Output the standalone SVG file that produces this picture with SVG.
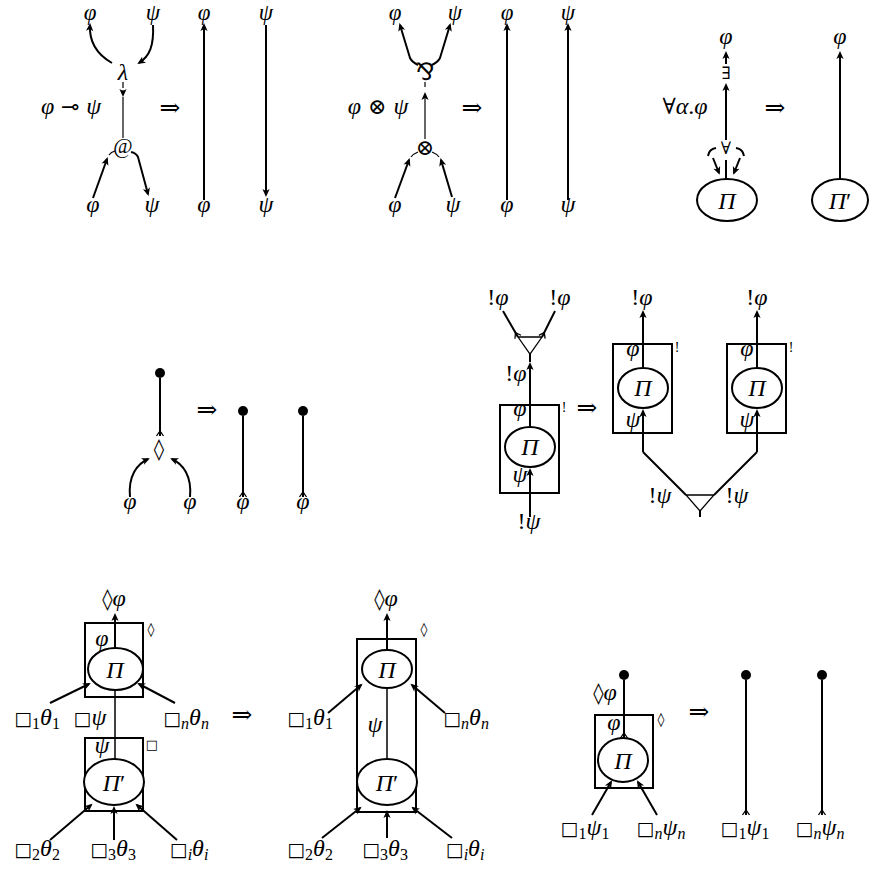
<svg xmlns="http://www.w3.org/2000/svg" width="869" height="869" viewBox="0 0 869 869">
<defs>
<style>
text { font-family: "Liberation Serif", "DejaVu Serif", serif; font-size: 24px; text-anchor: middle; fill: #000; }
.i { font-style: italic; }
.top { font-size: 23px; }
.s { font-size: 16px; }
.y { font-family: "DejaVu Serif", "Liberation Serif", serif; font-size: 22px; }
.q { font-family: "DejaVu Serif", "Liberation Serif", serif; font-size: 19px; }
.d { font-family: "DejaVu Sans", "Liberation Serif", sans-serif; font-size: 21px; }
.k { font-size: 14px; }
.w { fill: none; stroke: #000; stroke-width: 2; }
.t { fill: none; stroke: #000; stroke-width: 1.2; }
.a { marker-end: url(#ah); }
.b { marker-start: url(#tl); }
.n { fill: #fff; stroke: #000; stroke-width: 2; }
.bx { fill: none; stroke: #000; stroke-width: 2; }
.tri { fill: #fff; stroke: #000; stroke-width: 1.3; }
</style>
<marker id="ah" viewBox="-8 -5 12 10" refX="0" refY="0" markerWidth="12" markerHeight="10" markerUnits="userSpaceOnUse" orient="auto">
<path d="M2,0 L-6,-3.6 L-4,0 L-6,3.6 Z" fill="#000"/>
</marker>
<marker id="tl" viewBox="-2 -5 10 10" refX="0" refY="0" markerWidth="10" markerHeight="10" markerUnits="userSpaceOnUse" orient="auto">
<path d="M0,-3.5 L5,0 L0,3.5" fill="none" stroke="#000" stroke-width="1.3"/>
</marker>
</defs>
<rect width="869" height="869" fill="#fff"/>
<g opacity="0.999">

<!-- connectors -->
<g id="connectors">
  <!-- lambda / application redex -->
  <path class="w a" d="M112,63 C98,55 89,42 90,25"/>
  <path class="w a" d="M153,25 C154,45 150,56 139,63"/>
  <path class="t" d="M123,82 L123,88"/>
  <path class="t a" d="M123,90 L123,95"/>
  <path class="t" d="M123,97 L123,138"/>
  <path class="w a" d="M93,198 L107,159"/>
  <path class="t" d="M109,155 Q111,152 115,151"/>
  <path class="w a" d="M131,152 Q136,153 138,157 L148,194"/>
  <path class="w a" d="M204,200 L204,25"/>
  <path class="w a" d="M266,25 L266,195"/>
  <!-- tensor / par redex -->
  <path class="w a" d="M418,65 Q412,62 410,58 L400,25"/>
  <path class="w a" d="M432,65 Q438,62 440,58 L450,25"/>
  <path class="t" d="M425,82 L425,87"/>
  <path class="t a" d="M425,139 L425,94"/>
  <path class="w a" d="M395,198 L409,160"/>
  <path class="t" d="M411,157 Q413,154 418,152"/>
  <path class="w a" d="M452,197 L441,160"/>
  <path class="t" d="M439,157 Q437,154 432,152"/>
  <path class="w a" d="M507,200 L507,25"/>
  <path class="w a" d="M568,200 L568,25"/>
  <!-- forall / exists redex -->
  <path class="w a" d="M726,64 L726,53"/>
  <path class="w a" d="M726,140 L726,85"/>
  <path class="w" d="M708,156 Q709,149 716,148"/>
  <path class="w" d="M736,148 Q743,149 744,156"/>
  <path class="w a" d="M713,158 L719,173"/>
  <path class="w a" d="M740,158 L734,173"/>
  <path class="w" d="M726,160 L726,180"/>
  <path class="w a" d="M840,179 L840,53"/>
  <!-- diamond / weakening -->
  <path class="w b" d="M160,436 L160,378"/>
  <path class="w a" d="M130,497 C128,476 137,464 148,459"/>
  <path class="w a" d="M190,497 C192,476 183,464 172,459"/>
  <path class="w b" d="M243,497 L243,416"/>
  <path class="w b" d="M303,497 L303,416"/>
  <!-- contraction / promotion -->
  <path class="w b" d="M518,337 L503,311"/>
  <path class="w b" d="M542,337 L555,311"/>
  <path class="w a" d="M530,427 L530,364"/>
  <path class="w" d="M530,362 L530,353"/>
  <path class="w a" d="M530,517 L530,470"/>
  <path class="w a" d="M643,367 L643,312"/>
  <path class="w a" d="M643,452 L643,411"/>
  <path class="w" d="M643,452 L686,495"/>
  <path class="w a" d="M757,367 L757,312"/>
  <path class="w a" d="M757,452 L757,411"/>
  <path class="w" d="M757,452 L714,495"/>
  <path class="w" d="M700,511 L700,517"/>
  <!-- box / diamond commutation -->
  <path class="w a" d="M115,648 L115,615"/>
  <path class="w a" d="M50,703 L89,684"/>
  <path class="w a" d="M175,703 L139,684"/>
  <path class="w" d="M115,691 L115,759" style="stroke-width:1.5"/>
  <path class="w a" d="M50,840 L91,805"/>
  <path class="w a" d="M114,840 L114,808"/>
  <path class="w a" d="M177,840 L137,805"/>
  <path class="w a" d="M387,650 L387,615"/>
  <path class="w a" d="M328,713 L361,685"/>
  <path class="w a" d="M445,713 L412,685"/>
  <path class="w" d="M387,688 L387,759" style="stroke-width:1.5"/>
  <path class="w a" d="M322,838 L360,808"/>
  <path class="w a" d="M387,838 L387,812"/>
  <path class="w a" d="M452,838 L413,808"/>
  <!-- diamond box weakening -->
  <path class="w b" d="M624,738 L624,680"/>
  <path class="w a" d="M592,815 L611,782"/>
  <path class="w a" d="M657,815 L638,782"/>
  <path class="w b" d="M746,815 L746,680"/>
  <path class="w b" d="M822,815 L822,680"/>
</g>

<!-- row 1 -->
<g id="lam">
  <text class="i" x="123" y="80">λ</text>
</g>
<g id="app">
  <text x="123" y="153" style="font-size:21px">@</text>
</g>
<g id="lam-labels">
  <text class="i top" x="90" y="20">φ</text>
  <text class="i top" x="153" y="20">ψ</text>
  <text x="71" y="114"><tspan class="i">φ</tspan><tspan class="y"> ⊸ </tspan><tspan class="i">ψ</tspan></text>
  <text class="i" x="93" y="212">φ</text>
  <text class="i" x="152" y="212">ψ</text>
  <text class="y" x="170" y="116" style="font-size:25px">⇒</text>
  <text class="i top" x="204" y="20">φ</text>
  <text class="i top" x="266" y="20">ψ</text>
  <text class="i" x="204" y="212">φ</text>
  <text class="i" x="266" y="212">ψ</text>
</g>
<g id="par">
  <text x="425" y="80" style="font-family:'DejaVu Sans',sans-serif;font-size:24px">⅋</text>
</g>
<g id="tensor">
  <text class="y" x="425" y="155">⊗</text>
</g>
<g id="tensor-labels">
  <text class="i top" x="395" y="20">φ</text>
  <text class="i top" x="455" y="20">ψ</text>
  <text x="378" y="114"><tspan class="i">φ</tspan><tspan class="y"> ⊗ </tspan><tspan class="i">ψ</tspan></text>
  <text class="i" x="395" y="212">φ</text>
  <text class="i" x="453" y="212">ψ</text>
  <text class="y" x="472" y="116" style="font-size:25px">⇒</text>
  <text class="i top" x="507" y="20">φ</text>
  <text class="i top" x="568" y="20">ψ</text>
  <text class="i" x="507" y="212">φ</text>
  <text class="i" x="568" y="212">ψ</text>
</g>
<g id="exists">
  <text class="y" x="726" y="79" style="font-size:17px">∃</text>
</g>
<g id="forall">
  <text class="y" x="726" y="154" style="font-size:17px">∀</text>
</g>
<g id="pi-1">
  <ellipse class="n" cx="727" cy="200" rx="30" ry="21"/>
  <text class="i" x="727" y="209">Π</text>
</g>
<g id="pi-1p">
  <ellipse class="n" cx="840" cy="200" rx="28" ry="21"/>
  <text x="840" y="209"><tspan class="i">Π</tspan>′</text>
</g>
<g id="forall-labels">
  <text class="i" x="726" y="44">φ</text>
  <text x="685" y="114"><tspan class="y">∀</tspan><tspan class="i">α</tspan>.<tspan class="i">φ</tspan></text>
  <text class="y" x="775" y="116" style="font-size:25px">⇒</text>
  <text class="i" x="840" y="44">φ</text>
</g>

<!-- row 2 -->
<g id="dot-1"><circle cx="160" cy="373" r="5" fill="#000"/></g>
<g id="dia-1"><text class="d" x="159" y="456">◊</text></g>
<g id="dot-2"><circle cx="243" cy="411" r="5" fill="#000"/></g>
<g id="dot-3"><circle cx="303" cy="411" r="5" fill="#000"/></g>
<g id="weak-labels">
  <text class="i" x="130" y="509">φ</text>
  <text class="i" x="190" y="509">φ</text>
  <text class="y" x="207" y="418" style="font-size:25px">⇒</text>
  <text class="i" x="243" y="509">φ</text>
  <text class="i" x="303" y="509">φ</text>
</g>

<g id="contr-1"><polygon class="tri" points="518,337 542,337 530,354"/></g>
<g id="promo-1">
  <rect class="bx" x="500" y="405" width="59" height="88"/>
  <ellipse class="n" cx="530" cy="447" rx="25" ry="20"/>
  <text class="i" x="530" y="455">Π</text>
  <text class="i" x="520" y="416">φ</text>
  <text class="i" x="520" y="482">ψ</text>
  <text class="k" x="564" y="412">!</text>
</g>
<g id="promo-2">
  <rect class="bx" x="613" y="344" width="59" height="89"/>
  <ellipse class="n" cx="643" cy="388" rx="25" ry="20"/>
  <text class="i" x="643" y="396">Π</text>
  <text class="i" x="633" y="356">φ</text>
  <text class="i" x="633" y="427">ψ</text>
  <text class="k" x="677" y="352">!</text>
</g>
<g id="promo-3">
  <rect class="bx" x="727" y="344" width="59" height="89"/>
  <ellipse class="n" cx="757" cy="388" rx="25" ry="20"/>
  <text class="i" x="757" y="396">Π</text>
  <text class="i" x="747" y="356">φ</text>
  <text class="i" x="747" y="427">ψ</text>
  <text class="k" x="791" y="352">!</text>
</g>
<g id="contr-2"><polygon class="tri" points="686,495 714,495 700,511"/></g>
<g id="contr-labels">
  <text x="498" y="305">!<tspan class="i">φ</tspan></text>
  <text x="560" y="305">!<tspan class="i">φ</tspan></text>
  <text x="516" y="381">!<tspan class="i">φ</tspan></text>
  <text x="529" y="529">!<tspan class="i">ψ</tspan></text>
  <text class="y" x="587" y="416" style="font-size:25px">⇒</text>
  <text x="642" y="305">!<tspan class="i">φ</tspan></text>
  <text x="757" y="305">!<tspan class="i">φ</tspan></text>
  <text x="660" y="503">!<tspan class="i">ψ</tspan></text>
  <text x="737" y="503">!<tspan class="i">ψ</tspan></text>
</g>

<!-- row 3 -->
<g id="box-dia-1">
  <rect class="bx" x="85" y="623" width="58" height="74"/>
  <ellipse class="n" cx="115.5" cy="669" rx="27.5" ry="21"/>
  <text class="i" x="115" y="678">Π</text>
  <text class="i" x="102" y="646">φ</text>
  <text class="d" x="151" y="634" style="font-size:14px">◊</text>
</g>
<g id="box-sq-1">
  <rect class="bx" x="85" y="738" width="58" height="73"/>
  <ellipse class="n" cx="114" cy="782" rx="30" ry="23"/>
  <text x="114" y="791"><tspan class="i">Π</tspan>′</text>
  <text class="i" x="102" y="753">ψ</text>
  <text class="q" x="152" y="749" style="font-size:13px">□</text>
</g>
<g id="comm-labels-1">
  <text x="114" y="606"><tspan class="d">◊</tspan><tspan class="i">φ</tspan></text>
  <text x="37" y="725"><tspan class="q">□</tspan><tspan class="s" dy="4">1</tspan><tspan class="i" dy="-4">θ</tspan><tspan class="s" dy="4">1</tspan></text>
  <text x="90" y="725"><tspan class="q">□</tspan><tspan class="i">ψ</tspan></text>
  <text x="186" y="725"><tspan class="q">□</tspan><tspan class="s i" dy="4">n</tspan><tspan class="i" dy="-4">θ</tspan><tspan class="s i" dy="4">n</tspan></text>
  <text x="37" y="856"><tspan class="q">□</tspan><tspan class="s" dy="4">2</tspan><tspan class="i" dy="-4">θ</tspan><tspan class="s" dy="4">2</tspan></text>
  <text x="113" y="856"><tspan class="q">□</tspan><tspan class="s" dy="4">3</tspan><tspan class="i" dy="-4">θ</tspan><tspan class="s" dy="4">3</tspan></text>
  <text x="189" y="856"><tspan class="q">□</tspan><tspan class="s i" dy="4">i</tspan><tspan class="i" dy="-4">θ</tspan><tspan class="s i" dy="4">i</tspan></text>
  <text class="y" x="242" y="723" style="font-size:25px">⇒</text>
</g>
<g id="box-dia-2">
  <rect class="bx" x="357" y="639" width="59" height="173"/>
  <ellipse class="n" cx="387" cy="669" rx="25" ry="19"/>
  <text class="i" x="387" y="678">Π</text>
  <ellipse class="n" cx="387" cy="782" rx="30" ry="23"/>
  <text x="387" y="791"><tspan class="i">Π</tspan>′</text>
  <text class="i" x="375" y="732">ψ</text>
  <text class="d" x="424" y="634" style="font-size:14px">◊</text>
</g>
<g id="comm-labels-2">
  <text x="386" y="606"><tspan class="d">◊</tspan><tspan class="i">φ</tspan></text>
  <text x="310" y="725"><tspan class="q">□</tspan><tspan class="s" dy="4">1</tspan><tspan class="i" dy="-4">θ</tspan><tspan class="s" dy="4">1</tspan></text>
  <text x="466" y="725"><tspan class="q">□</tspan><tspan class="s i" dy="4">n</tspan><tspan class="i" dy="-4">θ</tspan><tspan class="s i" dy="4">n</tspan></text>
  <text x="310" y="856"><tspan class="q">□</tspan><tspan class="s" dy="4">2</tspan><tspan class="i" dy="-4">θ</tspan><tspan class="s" dy="4">2</tspan></text>
  <text x="385" y="856"><tspan class="q">□</tspan><tspan class="s" dy="4">3</tspan><tspan class="i" dy="-4">θ</tspan><tspan class="s" dy="4">3</tspan></text>
  <text x="465" y="856"><tspan class="q">□</tspan><tspan class="s i" dy="4">i</tspan><tspan class="i" dy="-4">θ</tspan><tspan class="s i" dy="4">i</tspan></text>
</g>

<g id="dot-4"><circle cx="624" cy="675" r="5" fill="#000"/></g>
<g id="box-dia-3">
  <rect class="bx" x="595" y="715" width="58" height="73"/>
  <ellipse class="n" cx="623" cy="760" rx="25" ry="22"/>
  <text class="i" x="623" y="769">Π</text>
  <text class="i" x="614" y="730">φ</text>
  <text class="d" x="661" y="724" style="font-size:14px">◊</text>
</g>
<g id="dot-5"><circle cx="746" cy="675" r="5" fill="#000"/></g>
<g id="dot-6"><circle cx="822" cy="675" r="5" fill="#000"/></g>
<g id="dweak-labels">
  <text x="605" y="700"><tspan class="d">◊</tspan><tspan class="i">φ</tspan></text>
  <text x="585" y="835"><tspan class="q">□</tspan><tspan class="s" dy="4">1</tspan><tspan class="i" dy="-4">ψ</tspan><tspan class="s" dy="4">1</tspan></text>
  <text x="661" y="835"><tspan class="q">□</tspan><tspan class="s i" dy="4">n</tspan><tspan class="i" dy="-4">ψ</tspan><tspan class="s i" dy="4">n</tspan></text>
  <text class="y" x="699" y="720" style="font-size:25px">⇒</text>
  <text x="745" y="835"><tspan class="q">□</tspan><tspan class="s" dy="4">1</tspan><tspan class="i" dy="-4">ψ</tspan><tspan class="s" dy="4">1</tspan></text>
  <text x="820" y="835"><tspan class="q">□</tspan><tspan class="s i" dy="4">n</tspan><tspan class="i" dy="-4">ψ</tspan><tspan class="s i" dy="4">n</tspan></text>
</g>
</g>
</svg>
